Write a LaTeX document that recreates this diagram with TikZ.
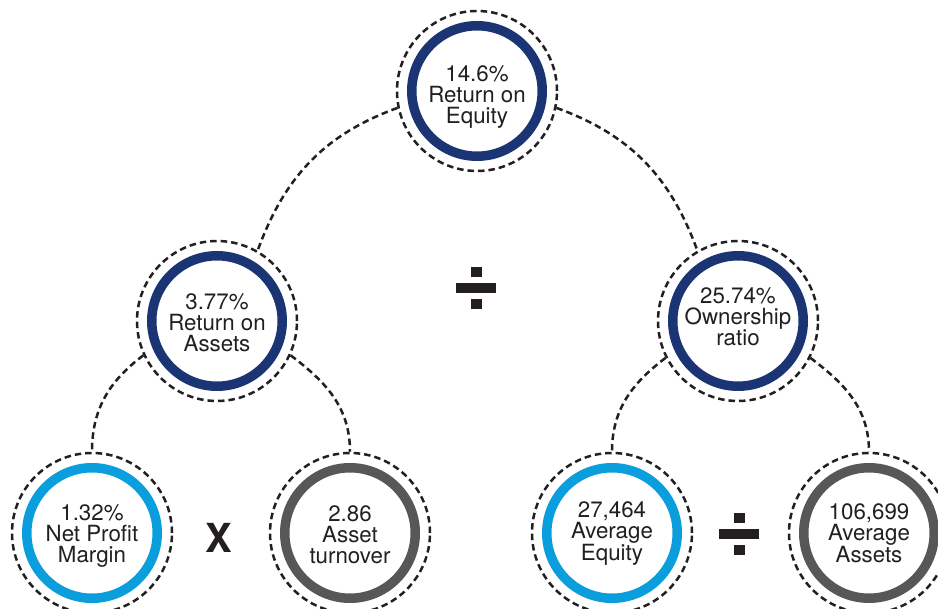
\documentclass[tikz,border=0pt]{standalone}
\usepackage{fontspec}
\setmainfont{TeX Gyre Heros}
\definecolor{navy}{HTML}{1B3574}
\definecolor{sky}{HTML}{0A9EDD}
\definecolor{ringgrey}{HTML}{575757}
\definecolor{ink}{HTML}{231F20}
\tikzset{
  outer/.style={circle, minimum size=160pt, inner sep=0pt, draw=ink, line width=2.5pt, dash pattern=on 6.5pt off 4pt, fill=white},
  conn/.style={draw=ink, line width=2.5pt, dash pattern=on 6.5pt off 4pt},
  ring/.style={line width=9.5pt},
  lbl/.style={align=center, text=ink, font=\fontsize{22.3}{21}\selectfont, inner sep=0pt},
  divsym/.pic={
    \fill[ink] (-20,-5) rectangle (20,5);
    \fill[ink] (-5.5,11) rectangle (5.5,21);
    \fill[ink] (-5.5,-11) rectangle (5.5,-21);
  }
}
\begin{document}
\begin{tikzpicture}[x=1pt,y=1pt]
\useasboundingbox (0,0) rectangle (938,-609);
% outer dashed circles
\node[outer] (roe) at (477,-91) {};
\node[outer] (roa) at (217,-321) {};
\node[outer] (own) at (738,-321) {};
\node[outer] (npm) at (92,-533) {};
\node[outer] (at) at (350,-533) {};
\node[outer] (ae) at (612,-533) {};
\node[outer] (aa) at (869,-533) {};
% rings
\draw[ring, navy] (roe.center) circle[radius=65.25];
\draw[ring, navy] (roa.center) circle[radius=65.25];
\draw[ring, navy] (own.center) circle[radius=65.25];
\draw[ring, sky] (npm.center) circle[radius=65.25];
\draw[ring, ringgrey] (at.center) circle[radius=65.25];
\draw[ring, sky] (ae.center) circle[radius=65.25];
\draw[ring, ringgrey] (aa.center) circle[radius=65.25];
% labels
\node[lbl] (roe-t) at ([yshift=-6]roe.center) {14.6\%\\Return on\\Equity};
\node[lbl] (roa-t) at ([yshift=-2]roa.center) {3.77\%\\Return on\\Assets};
\node[lbl] (own-t) at ([yshift=4]own.center) {25.74\%\\Ownership\\ratio};
\node[lbl] (npm-t) at ([yshift=-3]npm.center) {1.32\%\\Net Profit\\Margin};
\node[lbl] (at-t) at ([yshift=-1.5]at.center) {2.86\\Asset\\turnover};
\node[lbl] (ae-t) at ([yshift=-0.5]ae.center) {27,464\\Average\\Equity};
\node[lbl] (aa-t) at ([yshift=0]aa.center) {106,699\\Average\\Assets};
% connectors
\draw[conn] (roe.192) to[out=200,in=70] (roa.60);
\draw[conn] (roe.348) to[out=-20,in=110] (own.120);
\draw[conn] (roa.205) to[out=217,in=90] (npm.90);
\draw[conn] (roa.335) to[out=-37,in=90] (at.90);
\draw[conn] (own.207) to[out=217,in=90] (ae.90);
\draw[conn] (own.333) to[out=-37,in=90] (aa.90);
% operators
\pic (div1) at (476,-288) {divsym};
\node[text=ink, font=\bfseries\fontsize{40}{40}\selectfont, inner sep=0pt] (times) at (219,-537.5) {X};
\pic (div2) at (739,-534) {divsym};
\end{tikzpicture}
\end{document}
